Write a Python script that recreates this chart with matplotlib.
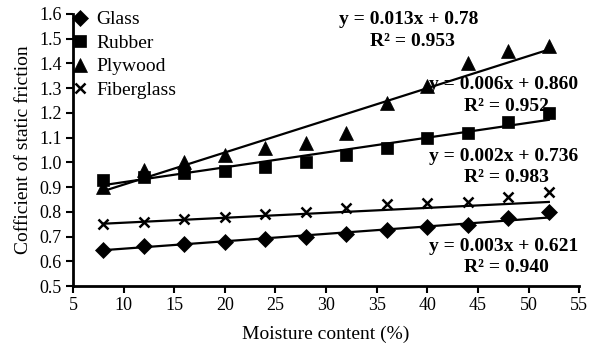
import numpy as np
import matplotlib.pyplot as plt

plt.rcParams['font.family'] = ['Liberation Serif', 'DejaVu Serif']

moisture = [8, 12, 16, 20, 24, 28, 32, 36, 40, 44, 48, 52]
glass = [0.645, 0.66, 0.67, 0.68, 0.69, 0.70, 0.71, 0.725, 0.74, 0.745, 0.775, 0.80]
rubber = [0.93, 0.94, 0.955, 0.965, 0.98, 1.00, 1.03, 1.06, 1.10, 1.12, 1.165, 1.20]
plywood = [0.90, 0.97, 1.00, 1.03, 1.06, 1.08, 1.12, 1.24, 1.31, 1.40, 1.45, 1.47]
fiberglass = [0.75, 0.76, 0.77, 0.78, 0.79, 0.80, 0.815, 0.83, 0.835, 0.84, 0.86, 0.88]

# linear fits as reported: (slope, intercept, r2)
fit_glass = (0.003, 0.621, 0.940)
fit_rubber = (0.006, 0.860, 0.952)
fit_plywood = (0.013, 0.78, 0.953)
fit_fiberglass = (0.002, 0.736, 0.983)

fig = plt.figure(figsize=(5.91, 3.58), dpi=100)
ax = fig.add_axes([0.1235, 0.201, 0.8565, 0.76])

series = [
    ('Glass', glass, 'D', 8, fit_glass),
    ('Rubber', rubber, 's', 8.5, fit_rubber),
    ('Plywood', plywood, '^', 10, fit_plywood),
    ('Fiberglass', fiberglass, 'x', 7, fit_fiberglass),
]

x = np.array(moisture)
for name, vals, mk, ms, fit in series:
    ax.plot(x, vals, linestyle='none', marker=mk, markersize=ms, color='black',
            markeredgewidth=1.8 if mk == 'x' else 0.5, label=name)
    xl = np.array([x[0], x[-1]])
    ax.plot(xl, fit[0] * xl + fit[1], color='black', lw=1.6)

# equation labels
eq_pos = [(fit_plywood, '0.78', 38.2, 1.577, 1.488),
          (fit_rubber, '0.860', 47.5, 1.314, 1.225),
          (fit_fiberglass, '0.736', 47.5, 1.022, 0.937),
          (fit_glass, '0.621', 47.5, 0.658, 0.573)]
for fit, icpt, tx, ty1, ty2 in eq_pos:
    ax.text(tx, ty1, f'y = {fit[0]:.3f}x + {icpt}', ha='center', va='center',
            fontsize=14, fontweight='bold')
    ax.text(tx + 0.3, ty2, f'R\u00b2 = {fit[2]:.3f}', ha='center',
            va='center', fontsize=14, fontweight='bold')

ax.set_xlim(5, 55)
ax.set_ylim(0.5, 1.6)
ax.set_xticks(np.arange(5, 56, 5))
ax.set_yticks(np.arange(0.5, 1.61, 0.1))
ax.yaxis.set_major_formatter(plt.FormatStrFormatter('%.1f'))
for s in ['top', 'right']:
    ax.spines[s].set_visible(False)
for s in ['left', 'bottom']:
    ax.spines[s].set_linewidth(2)
ax.tick_params(direction='out', length=5, width=1.5, labelsize=13, pad=3)

ax.set_xlabel('Moisture content (%)', fontsize=14, labelpad=8)
ax.set_ylabel('Cofficient of static friction', fontsize=14, labelpad=5)

ax.legend(loc='upper left', frameon=False, fontsize=14, handletextpad=0.3,
          borderaxespad=0.0, labelspacing=0.3, handlelength=1.0,
          bbox_to_anchor=(-0.02, 1.04))

fig.savefig('out.png', dpi=100)
